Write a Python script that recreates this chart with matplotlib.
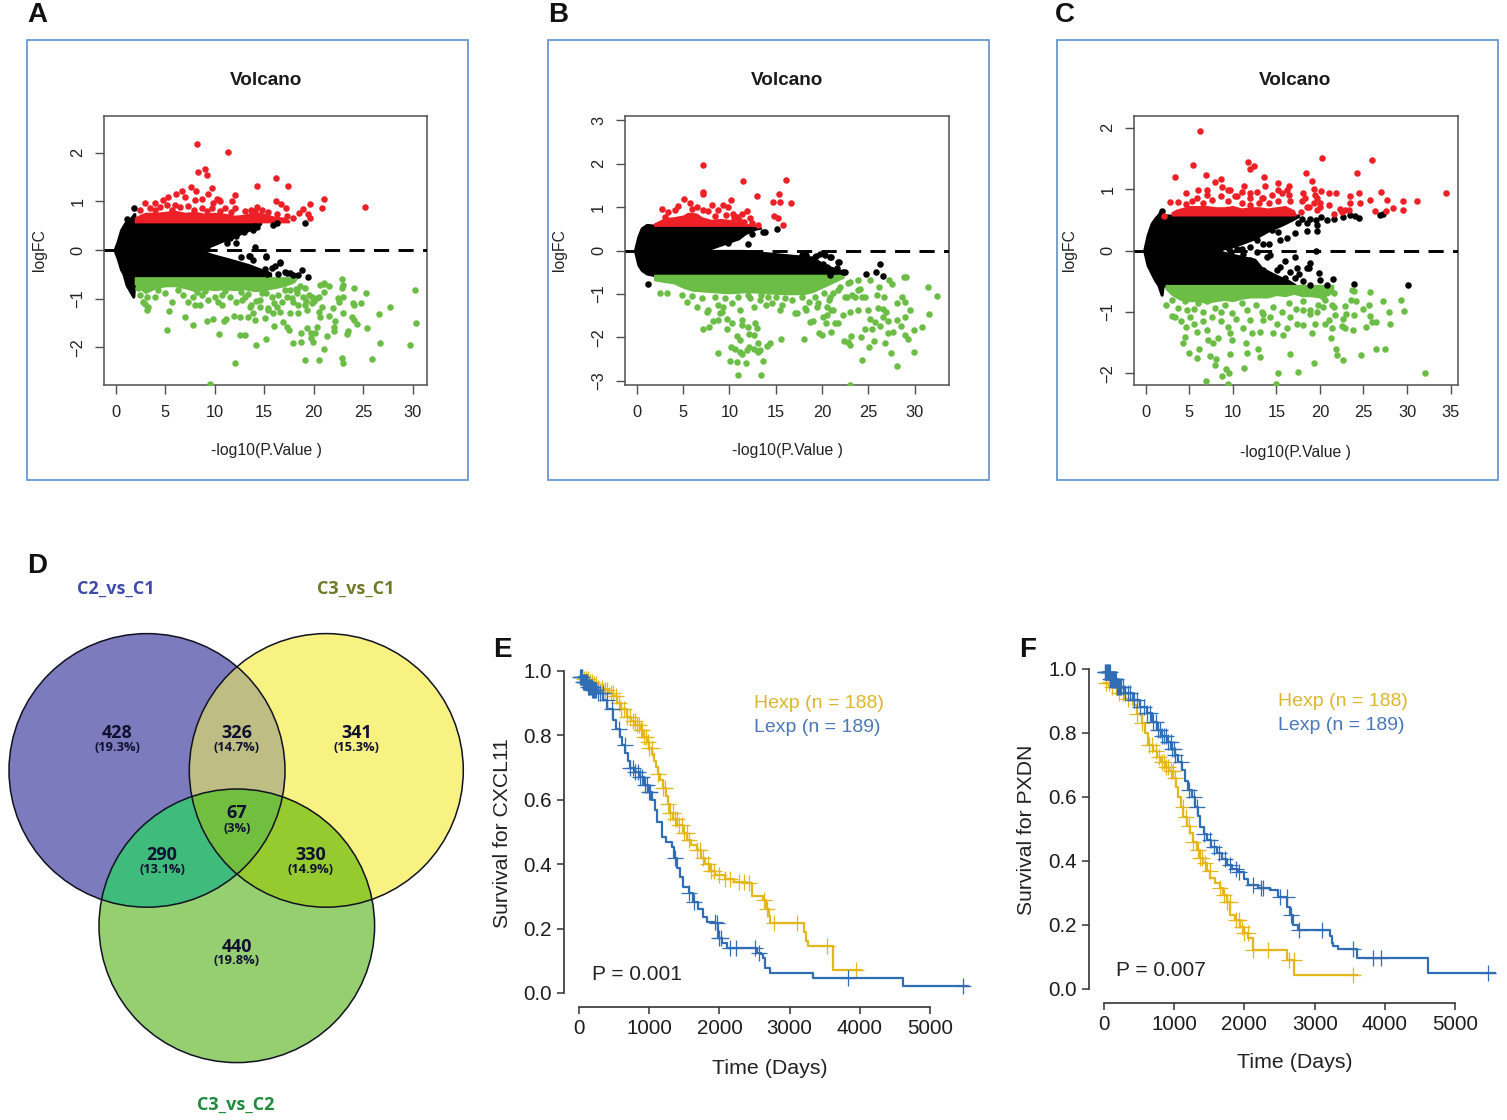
import numpy as np
import matplotlib
matplotlib.use("Agg")
import matplotlib.pyplot as plt
from matplotlib.patches import Rectangle, Ellipse, Polygon

plt.rcParams['font.family'] = ['Liberation Sans', 'DejaVu Sans']

# ---------- Panel A ----------
a_red = [(8.18,2.19),(11.38,2.01),(8.35,1.61),(8.99,1.67),(9.19,1.55),(16.16,1.49),(14.31,1.32),(17.37,1.31),(7.58,1.29),(8.08,1.21),(9.76,1.27),(6.67,1.22),(6.06,1.15),(9.36,1.15),(12.05,1.13),(8.75,1.05),(7.98,1.03),(10.2,1.05),(10.54,1.01),(11.78,1.0),(21.04,1.04),(16.2,1.0),(16.7,.95),(19.63,.94),(17.17,.86),(20.88,.86),(25.2,.88),(18.9,.84),(18.55,.77),(19.46,.74),(19.63,.65),(17.27,.69),(2.96,.96),(2.46,.82),(3.97,.97),(4.81,1.03),(5.32,1.10),(7,1.10),(6,.93),(9.86,.97),(10.4,1.03),(11,.86),(13.06,.81),(14.24,.88),(16.26,.75),(3.47,.86),(4.48,.89),(5.15,.93),(6.5,.89),(7.34,.9),(8.68,.86),(9.7,.86),(12.05,.86),(13.7,.82),(14.75,.82),(15.4,.79),(4.0,.82),(5.7,.82),(7.9,.82),(9.2,.8),(10.5,.8),(11.6,.79),(14.1,.8),(17.9,.66)]
a_green = [(30.27,-.83),(30.3,-1.5),(29.76,-1.95),(27.7,-1.17),(26.6,-1.32),(26.7,-1.92),(25.86,-2.25),(25.39,-1.6),(25.25,-.89),(24.75,-1.1),(24.1,-.78),(24.0,-1.1),(24.1,-1.14),(24.4,-1.53),(23.84,-1.37),(24.1,-1.44),(23.47,-1.67),(23.33,-1.73),(22.83,-.6),(22.93,-.72),(22.83,-.79),(22.93,-.96),(22.5,-.99),(22.6,-1.06),(22.93,-1.29),(22.83,-2.22),(22.96,-2.32),(21.9,-1.2),(22.2,-1.47),(22,-1.58),(22,-1.67),(21.3,-1.77),(21.04,-2.04),(20.5,-2.26),(19.16,-2.26),(21.5,-.75),(21.04,-.67),(20.64,-.72),(21,-.86),(20.3,-.99),(20.8,-1.17),(20.5,-1.27),(20.64,-1.37),(21.5,-1.36),(20.3,-1.58),(20.1,-1.7),(19.73,-1.7),(19.3,-1.6),(18.7,-1.71),(18.7,-1.9),(17.95,-1.91),(19.7,-1.82),(19.97,-1.89),(17.5,-1.65),(17.27,-1.58),(16.94,-1.49),(16,-1.56),(15.2,-1.83),(14.18,-1.96),(12,-2.33),(9.53,-2.76),(13.06,-1.75),(12.56,-1.74),(10.47,-1.73),(5.15,-1.65),(7.85,-1.54),(9.2,-1.47),(9.87,-1.41),(10.9,-1.46),(11.15,-1.41),(11.9,-1.35),(12.56,-1.37),(14.07,-1.44),(15.08,-1.39),(13.4,-1.37),(7,-1.37),(5.42,-1.26),(3.13,-1.23),(5.66,-1.08),(17.27,-.96),(18.3,-.89),(17.95,-1.06),(18.95,-.96),(19.3,-1.23),(19.1,-1.13),(19.8,-1.09),(17.6,-1.30),(18.45,-1.30),(16.3,-1.17),(15.4,-1.23),(14.6,-1.17),(13.57,-1.17),(13.9,-1.3),(15.9,-1.3),(16.6,-1.27),(18.6,-.75),(19.1,-.79),(18.2,-.8),(17.6,-.82),(19.5,-.92),(20,-1.05),(19.2,-1.05),(2.29,-.79),(2.46,-.93),(2.8,-1.06),(3.3,-1.17),(3.13,-.96),(3.97,-.96),(4.98,-.89),(6.83,-.93),(7.34,-1.06),(7.84,-.96),(8.5,-1.13),(9.36,-1.03),(10,-.96),(10.7,-1.13),(11.55,-.96),(12.2,-1.06),(13.06,-.96),(13.7,-1.13),(14.6,-1.03),(15.4,-1.2),(15.76,-.96),(16.4,-.93),(17.1,-.82),(17.8,-.99),(18.3,-.82),(19.8,-.96),(21,-.69),(20.5,-.96),(18.45,-1.13),(10.7,-.93),(8.68,-.93),(6.33,-.82),(4.3,-.82),(14.75,-.89),(12.7,-.86),(16.76,-1.06),(8,-1.13),(3.0,-1.12),(9,-.85),(11,-.85),(13.4,-.9),(15.2,-.88),(8.2,-.87),(10.3,-1.06),(12.8,-1.02),(14.2,-1.04),(16,-1.1)]
a_black = [(14.04,.07),(15.15,-.14),(16.6,-.25),(16.1,-.33),(18.8,-.41),(19.46,-.55),(19.12,.56),(15.93,.51),(16.26,.55),(13.9,.41),(14.24,.48),(1.89,.87),(1.1,.64),(13.57,-.12),(13.9,-.2),(17.95,-.51),(17.27,-.48),(9.2,.07),(8.68,.03),(11.55,.27),(11.2,.14),(12.2,.14),(9,.05),(9.5,.14),(12.2,.29),(11.4,.41),(11.55,.24),(13.46,-.12),(15.18,-.12),(16.6,-.27),(17.1,-.45),(15.08,-.4),(15.76,-.38),(17.6,-.48),(18.45,-.52),(12.7,-.14),(15.3,-.5),(16.4,-.5),(13,.38),(14.1,.5)]
a_up_x = [-.1,.2,.54,.94,1.45,1.88,1.95,8.35,9.7,11.7,13.4,14.6]
a_up_outer = [.01,.17,.41,.55,.63,.74,.57,.57,.57,.57,.57,.56]
a_up_inner = [0,0,0,0,0,0,0,0,.1,.27,.41,.54]
a_lo_x = [-.1,.2,.54,.77,1.1,1.78,1.9,8.35,9.7,11.7,13.4,14.7,15.6]
a_lo_outer = [-.01,-.17,-.4,-.48,-.72,-.96,-.57,-.57,-.57,-.57,-.57,-.57,-.55]
a_lo_inner = [0,0,0,0,0,0,0,0,-.1,-.21,-.31,-.41,-.48]
a_rb_x = [1.95,2.5,3,4,5,6,7,8,9,10,11,12,13,14,15,16,17,17.5]
a_rb_y = [.66,.72,.76,.76,.78,.8,.76,.78,.74,.76,.74,.7,.72,.78,.74,.68,.66,.6]
a_gb_x = [1.95,2.5,3,4,5,6,7,8,9,10,11,12,13,14,15,16,17,18,18.3]
a_gb_y = [-.7,-.8,-.88,-.78,-.74,-.74,-.78,-.84,-.8,-.82,-.8,-.82,-.8,-.84,-.82,-.78,-.74,-.66,-.58]
a_xticks = [0,5,10,15,20,25,30]
a_yticks = [-2,-1,0,1,2]

# ---------- Panel B ----------
b_red = [(7.16,1.98),(11.47,1.61),(16.1,1.62),(7.12,1.35),(7.12,1.31),(12.95,1.25),(15.3,1.31),(14.68,1.11),(15.47,1.12),(16.69,1.10),(14.82,.80),(15.25,.75),(15.76,.58),(13.1,.59),(10.2,1.16),(5.1,1.18),(5.8,1.09),(2.7,.96),(4.5,1.03),(6.47,1.01),(8.09,1.05),(9.35,1.05),(9.9,1.01),(8.8,.93),(7.73,.92),(11.87,.91),(11.33,.84),(10.36,.85),(10.86,.78),(12.2,.74),(12.4,.64),(3.4,.89),(4.1,.93),(7.2,.93),(6.0,.96),(3.0,.78),(8.4,.8),(9.6,.82),(10.5,.75),(11,.7),(11.6,.66)]
b_black = [(15.1,.49),(13.6,.43),(13.85,.42),(12.05,.16),(26.2,-.31),(24.7,-.55),(25.8,-.49),(26.55,-.58),(21.87,-.27),(20.86,-.15),(20.3,-.1),(19.8,-.07),(22.3,-.49),(21.58,-.41),(20.5,-.38),(20.86,-.57),(1.26,-.78),(19.3,-.12),(18.3,-.1),(20.1,-.3),(9.9,.18),(12.4,.39),(11.33,.43),(21.75,-.26),(19.96,-.33),(21,-.14),(19.2,-.14),(17.8,-.1),(21.2,-.48),(22.5,-.5)]
b_green = [(32.37,-1.04),(31.4,-.85),(31.5,-1.47),(30.8,-1.76),(29.93,-2.35),(29.86,-1.84),(29.3,-2.05),(28.96,-1.94),(29.5,-1.36),(28.96,-1.53),(28.96,-1.18),(28.6,-1.07),(28.06,-1.22),(28.1,-1.59),(28.5,-1.74),(28.8,-.61),(29,-.61),(27.2,-.67),(27.5,-.78),(28.06,-2.66),(27.4,-2.36),(26.83,-2.14),(27.7,-1.87),(27.1,-1.91),(27.16,-1.62),(26.6,-1.53),(26.86,-1.41),(26.6,-1.34),(26.7,-1.07),(26.15,-.85),(25.9,-1.03),(26,-1.32),(26.26,-1.74),(25.7,-1.64),(25.65,-2.09),(25.07,-2.22),(24.3,-2.53),(25.36,-1.8),(24.64,-1.8),(24.2,-1.99),(23.13,-1.97),(23,-2.18),(22.84,-2.1),(22.37,-2.08),(23.02,-3.1),(25.18,-1.57),(25,-1.37),(23.92,-1.36),(23,-1.41),(22.3,-1.49),(21.76,-1.68),(21.4,-1.68),(20.97,-1.87),(19.96,-1.95),(19.7,-1.91),(18.1,-2.03),(18.7,-1.64),(19.06,-1.63),(20.43,-1.68),(20.14,-1.53),(20.5,-1.49),(21.2,-1.37),(15.58,-2.03),(14.4,-2.14),(14.1,-2.2),(13.6,-2.54),(13.4,-2.88),(10.9,-2.87),(10.8,-2.57),(10.07,-2.54),(11.8,-2.59),(8.8,-2.36),(10.14,-2.23),(10.6,-2.26),(11.15,-2.33),(11.33,-2.39),(11.87,-2.3),(12.6,-2.26),(13.13,-2.33),(13.3,-2.3),(12.13,-2.22),(13.13,-2.13),(11.15,-2.07),(10.8,-1.97),(12.16,-1.93),(12.6,-1.95),(7.2,-1.8),(7.8,-1.76),(8.27,-1.62),(8.8,-1.6),(9.7,-1.57),(10.25,-1.68),(9.7,-1.8),(11.33,-1.6),(11.33,-1.72),(12.05,-1.76),(12.77,-1.68),(12.95,-1.78),(22.84,-.76),(23.92,-.68),(24.64,-1.07),(24.1,-.88),(24.3,-1.07),(22.66,-1.07),(23.56,-1.07),(25.18,-.68),(21.94,-.84),(21.2,-.99),(20.86,-1.07),(20.5,-1.3),(19.4,-1.3),(18.3,-1.37),(17.3,-1.45),(15.5,-1.37),(14.0,-1.26),(12.6,-1.3),(11.1,-1.37),(9.35,-1.3),(9,-1.45),(7.55,-1.41),(6.5,-1.3),(5.4,-1.18),(2.52,-.97),(3.23,-.97),(4.85,-1.03),(7.73,-1.37),(8.8,-1.26),(9.17,-1.41),(10.25,-1.22),(12.2,-1.1),(13.3,-1.14),(14.56,-1.22),(15.64,-1.26),(17.1,-1.45),(18.16,-1.33),(19.6,-1.22),(20.7,-1.14),(21.75,-.91),(21,-1.37),(22.5,-1.06),(23,-.72),(23.9,-.91),(23.2,-1.03),(7,-1.1),(8.45,-1.06),(9.5,-1.1),(10.97,-1.06),(14.2,-1.06),(16.7,-1.14),(19.2,-1.06),(6,-1.05),(12,-1.02),(13.4,-1.03),(15,-1.08),(16,-1.1),(17.8,-1.08),(18.6,-1.18),(20.2,-.98)]
b_up_x = [-.18,.18,.54,1.08,1.98,7.37,9.5,10.97,11.7,12.9,13.3]
b_up_outer = [.01,.32,.51,.59,.57,.57,.57,.57,.57,.55,.52]
b_up_inner = [0,0,0,0,0,.01,.17,.28,.4,.51,.52]
b_lo_x = [-.18,.18,.54,1.08,1.98,7.37,11.7,13.85,16.7,18.9,20.3,21.7,22.5]
b_lo_outer = [-.01,-.33,-.45,-.53,-.57,-.57,-.57,-.57,-.57,-.57,-.57,-.56,-.52]
b_lo_inner = [0,0,0,0,0,-.01,-.01,-.06,-.12,-.16,-.35,-.45,-.5]
b_rb_x = [1.9,2.5,3,4,5,5.5,6,6.5,7,8,9,10,11,12,13]
b_rb_y = [.62,.68,.74,.76,.8,.86,.86,.84,.76,.7,.72,.7,.64,.6,.58]
b_gb_x = [1.9,3,4,5,6,8,10,12,14,16,18,19,20,21.5,22.3]
b_gb_y = [-.68,-.72,-.75,-.85,-.92,-.95,-.98,-.95,-.98,-1.0,-1.0,-.95,-.85,-.7,-.62]
b_xticks = [0,5,10,15,20,25,30]
b_yticks = [-3,-2,-1,0,1,2,3]

# ---------- Panel C ----------
c_red = [(6.25,1.94),(5.48,1.39),(3.37,1.19),(6.97,1.23),(11.69,1.44),(12.38,1.38),(12,1.32),(13.6,1.19),(15.17,1.1),(13.72,1.05),(20.27,1.5),(25.98,1.47),(24.25,1.27),(18.35,1.27),(19.08,1.13),(34.5,.94),(31.2,.8),(29.5,.81),(29.5,.66),(28.43,.69),(27.66,.83),(27.6,.64),(27,.96),(26.3,.65),(25.8,.82),(24.64,.78),(24.44,.93),(23.5,.88),(23.4,.78),(22.9,.66),(22.5,.63),(22.34,.68),(21.84,.93),(21.1,.94),(20.1,.97),(19.35,1.0),(19.46,.9),(19.7,.85),(18.1,.94),(18.3,.85),(19.27,.77),(20,.71),(21,.74),(21.57,.6),(18.5,.71),(19.65,.66),(16.44,1.05),(7.97,1.12),(8.62,1.17),(8.8,1.04),(9.7,.99),(11.34,1.05),(2.8,.79),(3.75,.79),(4.6,.94),(6,.99),(7,.98),(12.76,.96),(12,.93),(14.5,.9),(15.63,.93),(16.2,.98),(2.1,.57),(10.5,.88),(13.3,.85),(17.8,.62),(5.85,.85),(7,.9),(8.7,.88),(9.5,.99),(10.25,.88),(11,.96),(12,.85),(13.5,.85),(15.2,.99),(16.4,.9),(16.6,.8),(12,.74),(6.6,.77),(9.5,.8),(15.2,.8),(17.9,.8),(18.7,.71),(20,.77),(23.3,.66),(7.6,.82),(5.3,.8),(14.1,.77),(4.6,.76),(11,.78),(13,.78)]
c_black = [(1.9,.64),(30.1,-.57),(23.95,-.54),(21.5,-.46),(20.8,-.56),(20,-.48),(19.85,-.36),(18.9,-.21),(18.7,-.28),(18.5,-.29),(19.54,0),(18.1,-.49),(18.9,-.56),(17.1,-.1),(17.36,-.29),(16,-.17),(15.44,-.27),(16.6,-.35),(13.9,-.1),(14.3,-.08),(14.1,.1),(15.44,.17),(16.2,.2),(17.16,.29),(18.5,.31),(19.65,.31),(18.5,.44),(18.9,.52),(19.65,.41),(20.8,.49),(21.57,.52),(22.7,.55),(23.5,.58),(24.44,.53),(26.93,.58),(12.76,.17),(12,.06),(13.5,.11),(10.5,.03),(12.76,-.02),(12,-.16),(13.5,-.32),(15.05,-.32),(9.6,.02),(9.8,-.02),(11,.02),(11.2,-.06),(14.5,.34),(15.2,.3),(17.5,.45),(17.9,.52),(20.1,.54),(19.5,.49),(24,.56),(27.2,.59),(16,-.44),(17.1,-.45),(17.6,-.38)]
c_green = [(32.07,-2.0),(29.66,-.99),(29.35,-.8),(28.05,-1.19),(27.9,-1.0),(27.3,-.82),(27.5,-1.61),(26.48,-1.6),(24.75,-1.7),(26.48,-1.16),(26,-1.16),(25.8,-1.06),(25.67,-.89),(25.7,-.67),(25,-.96),(25.3,-1.25),(23.87,-1.05),(23.75,-1.3),(22.9,-1.27),(22.5,-1.23),(23,-1.03),(22.7,-1.11),(22.83,-.91),(23.68,-.65),(23.87,-.66),(23.56,-.81),(24.14,-.82),(22.6,-1.79),(21.95,-1.7),(21.87,-1.61),(21.26,-1.42),(21.38,-1.26),(21.76,-1.05),(21.57,-.92),(21,-1.13),(20.6,-1.19),(19.27,-1.84),(17.47,-1.98),(16.6,-1.69),(15.2,-2.0),(15,-2.17),(11.26,-1.91),(11.6,-1.67),(11.5,-1.5),(12.95,-1.6),(13.14,-1.74),(9.7,-1.68),(9.5,-2.17),(6.9,-2.13),(8.77,-2.04),(9.23,-1.93),(9.54,-1.99),(7.97,-1.87),(8.08,-1.76),(7.4,-1.72),(5.94,-1.75),(5,-1.67),(6.17,-1.6),(4.33,-1.51),(4.5,-1.41),(5.86,-1.32),(7,-1.29),(7.78,-1.51),(7.2,-1.46),(8.35,-1.43),(9.96,-1.46),(9.7,-1.35),(11.2,-1.27),(12.2,-1.35),(13.14,-1.32),(14.6,-1.34),(15.8,-1.38),(16.2,-1.27),(17.36,-1.19),(18.1,-1.22),(19.08,-1.35),(19.46,-1.19),(15.06,-1.2),(13.5,-1.13),(12,-1.13),(14.3,-1.08),(16.6,-1.08),(18.9,-1.03),(19.65,-1),(20.4,-.92),(13.5,-1.03),(11.6,-.97),(19.65,-.62),(20.4,-.75),(21.57,-.7),(2.3,-.88),(3,-1.07),(4,-1.15),(4.6,-1.25),(5.6,-1.2),(6.6,-1.15),(8.6,-1.15),(9.4,-1.25),(3,-.8),(3.75,-.94),(3.36,-1.08),(4.7,-.97),(5.1,-1.08),(6,-.86),(6.6,-1),(8,-.94),(7.6,-1.08),(9.1,-.89),(9.87,-1.02),(11,-.86),(12.7,-.89),(13.3,-1),(14.65,-.92),(15.6,-1),(16.4,-.86),(18.1,-.83),(18.9,-.97),(19.8,-.89),(21.35,-.89),(20.6,-.8),(18.1,-.97),(4.5,-.83),(7,-.83),(17.2,-.95),(10.4,-1.12),(8.6,-1.0),(5.5,-.95)]
c_up_x = [-.16,.22,.68,1.07,1.45,1.83,1.95,7.95,10.25,12.5,14.1,15.6,16.75,17.5]
c_up_outer = [.01,.25,.44,.52,.58,.66,.57,.57,.57,.57,.57,.57,.57,.57]
c_up_inner = [0,0,0,0,0,0,0,0,.08,.2,.33,.42,.5,.56]
c_lo_x = [-.16,.22,.68,1.07,1.45,1.83,1.95,7.95,10.25,12.5,13.3,14.8,16.4,17.1]
c_lo_outer = [-.01,-.24,-.37,-.48,-.56,-.72,-.57,-.57,-.57,-.57,-.57,-.57,-.57,-.57]
c_lo_inner = [0,0,0,0,0,0,0,0,-.08,-.15,-.29,-.4,-.5,-.56]
c_rb_x = [3,3.5,4,5,6,7,8,9,10,11,12,13,14,15,16,17,17.2]
c_rb_y = [.62,.66,.68,.72,.72,.72,.7,.7,.72,.68,.7,.7,.68,.7,.72,.65,.58]
c_gb_x = [2.3,3,4,5,6,7,8,9,10,11,12,13,14,15,16,17,18,19,20,21,21.5]
c_gb_y = [-.62,-.72,-.8,-.82,-.82,-.85,-.82,-.8,-.82,-.78,-.76,-.76,-.76,-.72,-.74,-.7,-.74,-.74,-.76,-.72,-.65]
c_xticks = [0,5,10,15,20,25,30,35]
c_yticks = [-2,-1,0,1,2]

# ---------- Panel D ----------
venn_sets = ["C2_vs_C1", "C3_vs_C1", "C3_vs_C2"]
venn_counts = ["428", "326", "341", "67", "290", "330", "440"]
venn_pcts = ["(19.3%)", "(14.7%)", "(15.3%)", "(3%)", "(13.1%)", "(14.9%)", "(19.8%)"]

# ---------- Panel E ----------
e_hexp_t = [0,60,130,200,270,340,420,485,540,600,675,740,800,860,913,960,1000,1031,1060,1090,1120,1150,1190,1230,1260,1293,1340,1400,1483,1540,1600,1673,1730,1800,1863,1930,2077,2200,2386,2457,2624,2660,2700,2719,3203,3232,3265,3280,3612,3640,4025]
e_hexp_s = [.98,.975,.965,.96,.945,.94,.93,.92,.90,.88,.857,.845,.83,.815,.795,.78,.76,.743,.72,.70,.68,.66,.635,.61,.585,.557,.54,.52,.495,.475,.46,.443,.42,.40,.38,.365,.355,.345,.34,.30,.288,.26,.24,.216,.19,.16,.145,.145,.07,.07,.07]
e_lexp_t = [0,50,120,180,250,342,400,485,530,580,610,651,690,722,800,865,930,984,1030,1079,1110,1174,1240,1316,1350,1388,1430,1483,1560,1625,1700,1770,1816,1934,1982,2040,2100,2528,2590,2614,2647,2719,3336,4620,5546]
e_lexp_s = [.98,.965,.95,.94,.93,.91,.88,.847,.82,.795,.77,.744,.72,.697,.685,.671,.645,.625,.60,.568,.53,.485,.47,.454,.42,.387,.36,.33,.31,.283,.26,.235,.221,.216,.17,.155,.139,.125,.12,.108,.077,.063,.045,.022,.022]
e_hexp_cens = [30,60,90,120,150,180,210,240,270,320,360,400,450,480,520,560,600,640,680,720,760,790,820,850,880,900,920,950,980,1000,1030,1120,1190,1220,1260,1300,1330,1360,1390,1420,1460,1500,1530,1560,1680,1720,1760,1830,1880,1920,2000,2080,2150,2280,2350,2420,2640,2680,2780,3100,3540,3950]
e_lexp_cens = [15,25,35,45,55,65,75,85,95,105,115,125,135,145,155,165,175,185,195,205,215,225,240,260,290,340,390,470,560,650,730,770,800,840,870,900,940,970,990,1010,1370,1560,1630,1930,1970,2000,2020,2150,2230,2510,2560,3830,5470]

# ---------- Panel F ----------
f_hexp_t = [0,80,185,300,422,480,540,590,635,700,754,810,872,930,990,1030,1062,1100,1133,1180,1227,1270,1322,1370,1417,1465,1512,1580,1654,1700,1749,1796,1870,1938,2000,2057,2128,2611,2640,2711,3597]
f_hexp_s = [.955,.945,.924,.905,.888,.86,.83,.80,.7625,.745,.726,.71,.695,.68,.658,.63,.601,.57,.539,.51,.486,.46,.434,.41,.393,.37,.346,.33,.315,.295,.273,.231,.215,.195,.175,.158,.122,.09,.09,.044,.044]
f_lexp_t = [0,90,185,300,422,520,611,680,754,820,896,960,1014,1060,1109,1160,1204,1250,1299,1335,1370,1420,1464,1530,1607,1680,1749,1830,1915,1990,2057,2200,2365,2483,2602,2650,2697,2768,3218,3240,3265,3337,3607,4616,5564]
f_lexp_s = [.99,.97,.945,.925,.903,.88,.861,.835,.81,.79,.773,.75,.731,.71,.684,.65,.622,.60,.57,.54,.507,.485,.466,.445,.424,.405,.388,.375,.367,.345,.325,.315,.309,.289,.257,.23,.20,.184,.165,.143,.135,.124,.098,.049,.049]
f_hexp_cens = [30,70,120,170,220,270,340,480,540,640,690,740,790,830,860,890,920,950,980,1010,1130,1170,1210,1270,1340,1370,1400,1440,1510,1660,1710,1750,1790,1880,1930,1970,2000,2050,2130,2330,2640,2700,3540]
f_lexp_cens = [15,25,35,45,55,65,75,85,95,105,115,125,135,145,155,165,175,185,195,205,215,225,240,270,300,340,380,430,470,520,570,620,660,700,740,770,800,830,860,890,920,950,970,1000,1020,1100,1220,1280,1320,1430,1510,1570,1640,1720,1790,1880,1930,2120,2230,2260,2500,2600,2660,2780,3100,3540,3830,3950,5470]
km_xticks = [0,1000,2000,3000,4000,5000]
km_yticks = [0.0,0.2,0.4,0.6,0.8,1.0]

# ---------- Layout helpers ----------
W, H = 1507, 1120
fig = plt.figure(figsize=(W/100, H/100), dpi=100, facecolor='white')

def ax_px(l, t, r, b):
    return fig.add_axes([l/W, 1-b/H, (r-l)/W, (b-t)/H])

def text_px(x, y, s, **kw):
    kw.setdefault('ha', 'center'); kw.setdefault('va', 'center')
    return fig.text(x/W, 1-y/H, s, **kw)

RED, GREEN, FRAME, BORDER = '#ee2027', '#6bbd45', '#4f4f4f', '#5b90d0'
TXT = '#222222'

def volcano(box, x0, xs, y0, ys, border, title_x, xl_y, yl_x, red, green, black,
            up, lo, rb, gb, xticks, yticks, ythr=.575):
    l, t, r, b = box
    fig.add_artist(Rectangle((border[0]/W, 1-480/H), (border[1]-border[0])/W, 440.5/H,
                             transform=fig.transFigure, fill=False, ec=BORDER, lw=1.2))
    ax = ax_px(l, t, r, b)
    ax.set_xlim((l-x0)/xs, (r-x0)/xs)
    ax.set_ylim((y0-b)/ys, (y0-t)/ys)
    ax.fill_between(up[0], up[2], up[1], color='k', lw=2.2, zorder=2)
    ax.fill_between(lo[0], lo[1], lo[2], color='k', lw=2.2, zorder=2)
    ax.fill_between(rb[0], ythr, rb[1], color=RED, lw=1.2, zorder=3)
    ax.fill_between(gb[0], -ythr+.01, gb[1], color=GREEN, lw=1.2, zorder=3)
    for pts, c, z in ((black, 'k', 4), (red, RED, 4), (green, GREEN, 4)):
        ax.scatter([p[0] for p in pts], [p[1] for p in pts], s=22, c=c, lw=0, zorder=z)
    ax.axhline(0, color='k', lw=2.1, dashes=(5.2, 3.2), zorder=5)
    ax.set_xticks(xticks); ax.set_yticks(yticks)
    ax.tick_params(axis='x', length=6.5, width=1, color=FRAME, labelsize=11.8, pad=8, labelcolor=TXT)
    ax.tick_params(axis='y', length=6.5, width=1, color=FRAME, labelsize=11.8, pad=7, labelcolor=TXT)
    for lab in ax.get_yticklabels():
        lab.set_rotation(90); lab.set_va('center')
    for s in ax.spines.values():
        s.set_color(FRAME); s.set_linewidth(1.1)
    text_px(title_x, 80.5, "Volcano", fontsize=13.6, fontweight='bold', color='#1a1a1a')
    text_px(title_x, xl_y+1, "-log10(P.Value )", fontsize=11.3, color=TXT)
    text_px(yl_x, 250, "logFC", fontsize=11.3, rotation=90, color=TXT)

volcano((104,116,427,385), 115.7, 9.9, 250, 48.6, (27,467.5), 266, 450, 40, a_red, a_green, a_black,
        (a_up_x,a_up_outer,a_up_inner), (a_lo_x,a_lo_outer,a_lo_inner), (a_rb_x,a_rb_y), (a_gb_x,a_gb_y), a_xticks, a_yticks)
volcano((625,116,948.7,385.3), 636.7, 9.27, 250.5, 43.4, (547.5,988.7), 787, 450, 560, b_red, b_green, b_black,
        (b_up_x,b_up_outer,b_up_inner), (b_lo_x,b_lo_outer,b_lo_inner), (b_rb_x,b_rb_y), (b_gb_x,b_gb_y), b_xticks, b_yticks)
volcano((1134,116,1458,385), 1145.7, 8.71, 250.5, 61.4, (1056.7,1498), 1295, 451, 1070, c_red, c_green, c_black,
        (c_up_x,c_up_outer,c_up_inner), (c_lo_x,c_lo_outer,c_lo_inner), (c_rb_x,c_rb_y), (c_gb_x,c_gb_y), c_xticks, c_yticks)

# ---------- Venn ----------
vax = ax_px(0, 560, 480, 1120)
vax.set_xlim(0, 480); vax.set_ylim(1120, 560); vax.axis('off')
ells = [(147, 770.4, 138, 136.8), (326.3, 770.4, 137, 136.8), (236.8, 925.8, 137.8, 136.8)]
def inside(p, e):
    return ((p[:,0]-e[0])/e[2])**2 + ((p[:,1]-e[1])/e[3])**2 <= 1.0001
def boundary(e):
    a = np.linspace(0, 2*np.pi, 1441)[:-1]
    return np.c_[e[0]+e[2]*np.cos(a), e[1]+e[3]*np.sin(a)]
def overlap(idx):
    pts = []
    for i in idx:
        p = boundary(ells[i])
        for j in idx:
            if j != i:
                p = p[inside(p, ells[j])]
        pts.append(p)
    p = np.vstack(pts)
    c = p.mean(axis=0)
    return p[np.argsort(np.arctan2(p[:,1]-c[1], p[:,0]-c[0]))]
for e, col, z in zip(ells, ['#7b7bbd', '#f8f283', '#95cf70'], (1, 1, 2)):
    vax.add_patch(Ellipse((e[0], e[1]), 2*e[2], 2*e[3], fc=col, ec='none', zorder=z))
for idx, col in (((0,1), '#bdbd84'), ((0,2), '#3fbc7c'), ((1,2), '#96cb30'), ((0,1,2), '#72bf3f')):
    vax.add_patch(Polygon(overlap(idx), closed=True, fc=col, ec='none', zorder=3))
for e in ells:
    vax.add_patch(Ellipse((e[0], e[1]), 2*e[2], 2*e[3], fc='none', ec='#111122', lw=1.1, zorder=4))
venn_xy = [(117,733),(237,733),(356.5,733),(237,813.5),(162,855),(311,855),(237,946.5)]
for (x, y), n, p in zip(venn_xy, venn_counts, venn_pcts):
    dark = '#101030'
    text_px(x, y, n, fontsize=13, fontweight='bold', color=dark, family=['Open Sans','DejaVu Sans'])
    text_px(x, y+14.5, p, fontsize=9.3, fontweight='bold', color=dark, family=['Open Sans','DejaVu Sans'])
for (x, y), s, c in zip([(116,589),(356,589),(236,1105)], venn_sets, ['#3f4bab','#6f7a28','#1f8a3c']):
    text_px(x, y, s, fontsize=13, fontweight='bold', color=c, family=['Open Sans','DejaVu Sans'])

# ---------- Kaplan-Meier ----------
YEL, BLU = '#e3b71a', '#2f6db5'
def km(axl, axb, x0, xs, y1, y0, hexp, lexp, hc, lc, pval, ylabel, px, py, legx, legy, tlx, tly, ylx, yly):
    r, t = 1000 if axl < 1000 else 1505, 640
    ax = ax_px(axl, t, r, axb)
    ax.patch.set_alpha(0)
    ys = (y0-y1)
    ax.set_xlim((axl-x0)/xs, (r-x0)/xs)
    ax.set_ylim((y0-axb)/ys, (y0-t)/ys)
    for (tt, ss), cens, col, z in ((hexp, hc, YEL, 2), (lexp, lc, BLU, 3)):
        ax.plot(tt, ss, drawstyle='steps-post', color=col, lw=1.6, zorder=z)
        idx = np.searchsorted(tt, cens, side='right')-1
        ax.plot(cens, np.asarray(ss)[idx], ls='none', marker='+', ms=11, mew=0.9, color=col, zorder=z, clip_on=False)
    for s in ('top', 'right'):
        ax.spines[s].set_visible(False)
    ax.spines['left'].set_bounds(0, 1); ax.spines['bottom'].set_bounds(0, 5000)
    for s in ('left', 'bottom'):
        ax.spines[s].set_color('#333333'); ax.spines[s].set_linewidth(1.2)
    ax.set_xticks(km_xticks); ax.set_yticks(km_yticks)
    ax.set_yticklabels([f"{v:.1f}" for v in km_yticks])
    ax.tick_params(length=5, width=1.1, color='#333333', labelsize=14.8, labelcolor='#1c1c1c', pad=4)
    text_px(tlx, tly, "Time (Days)", fontsize=15.4, color='#222222')
    text_px(ylx, yly, ylabel, fontsize=15.2, rotation=90, color='#222222')
    text_px(px, py, pval, fontsize=15, ha='left', color='#222222')
    text_px(legx, legy, "Hexp (n = 188)", fontsize=14, ha='left', color='#dcb62c')
    text_px(legx, legy+23.5, "Lexp (n = 189)", fontsize=14, ha='left', color='#4a78b8')

km(564.3, 1006.7, 579.3, .0701, 670.7, 993, (e_hexp_t,e_hexp_s), (e_lexp_t,e_lexp_s), e_hexp_cens, e_lexp_cens,
   "P = 0.001", "Survival for CXCL11", 591.7, 974, 754, 704, 770, 1069, 503, 833)
km(1089.3, 1002.7, 1103.7, .07032, 669, 989, (f_hexp_t,f_hexp_s), (f_lexp_t,f_lexp_s), f_hexp_cens, f_lexp_cens,
   "P = 0.007", "Survival for PXDN", 1115.7, 970, 1278, 701.7, 1295, 1063, 1027, 830)

# ---------- Panel letters ----------
for (x, y), s in zip([(37,15),(558,15),(1065,15),(37,566),(502,650),(1028,650)], "ABCDEF"):
    text_px(x, y, s, fontsize=20, fontweight='bold', color='#111111')

fig.savefig("out.png", dpi=100, facecolor='white')
